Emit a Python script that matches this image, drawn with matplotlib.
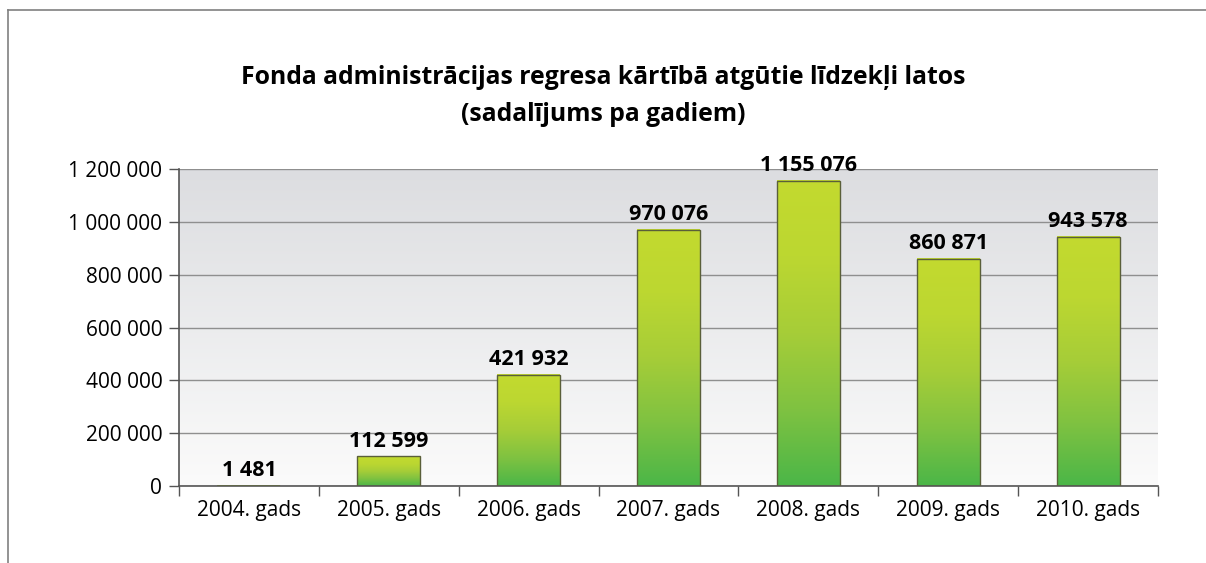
import numpy as np
import matplotlib
matplotlib.use("Agg")
import matplotlib.pyplot as plt
from matplotlib.colors import LinearSegmentedColormap
from matplotlib.lines import Line2D

categories = ["2004. gads", "2005. gads", "2006. gads", "2007. gads", "2008. gads", "2009. gads", "2010. gads"]
values = [1481, 112599, 421932, 970076, 1155076, 860871, 943578]
labels = ["1 481", "112 599", "421 932", "970 076", "1 155 076", "860 871", "943 578"]
yticks = [0, 200000, 400000, 600000, 800000, 1000000, 1200000]
ytick_labels = ["0", "200 000", "400 000", "600 000", "800 000", "1 000 000", "1 200 000"]
title = "Fonda administrācijas regresa kārtībā atgūtie līdzekļi latos\n(sadalījums pa gadiem)"

plt.rcParams['font.family'] = ['Open Sans', 'DejaVu Sans']

fig = plt.figure(figsize=(12.06, 5.63), dpi=100)
ax = fig.add_axes([179/1206, 1-486/563, (1158-179)/1206, (486-169)/563])

n = len(categories)
x = np.arange(n)
ax.set_xlim(-0.5, n-0.5)
ax.set_ylim(0, 1200000)

# background gradient
bg = LinearSegmentedColormap.from_list("bg", ["#fbfbfb", "#dcdde0"])
ax.imshow(np.linspace(0, 1, 256).reshape(-1, 1), cmap=bg, aspect='auto',
          extent=[-0.5, n-0.5, 0, 1200000], origin='lower', zorder=0)

ax.yaxis.grid(True, color="#8f8f8f", linewidth=1.0, zorder=1)
ax.set_axisbelow(True)

barcm = LinearSegmentedColormap.from_list("bar", ["#4bb648", "#7fc241", "#a6cd38", "#bcd731", "#c3da2f"])
bars = ax.bar(x, values, width=0.45, facecolor="none", edgecolor="#5a5f3a", linewidth=1.0, zorder=3)
for b in bars:
    bx, by = b.get_x(), b.get_y()
    w, h = b.get_width(), b.get_height()
    ax.imshow(np.linspace(0, 1, 256).reshape(-1, 1), cmap=barcm, aspect='auto',
              extent=[bx, bx+w, 0, h], origin='lower', zorder=2)

for xi, v, lab in zip(x, values, labels):
    ax.text(xi, v + 18000, lab, ha='center', va='bottom', fontsize=15.5, fontweight='bold', color='black', zorder=4)

ax.set_xlim(-0.5, n-0.5)
ax.set_ylim(0, 1200000)
ax.set_yticks(yticks)
ax.set_yticklabels(ytick_labels, fontsize=15)
ax.set_xticks(x)
ax.set_xticklabels(categories, fontsize=15)
ax.tick_params(axis='x', length=0, pad=10)
ax.set_xticks(np.arange(-0.5, n, 1), minor=True)
ax.tick_params(axis='x', which='minor', length=7, color="#555555", width=1.0)
ax.tick_params(axis='y', length=7, color="#555555", width=1.0, pad=5)

for s in ['top', 'right']:
    ax.spines[s].set_visible(False)
ax.spines['left'].set_color("#555555")
ax.spines['bottom'].set_color("#555555")
ax.spines['left'].set_linewidth(1.2)
ax.spines['bottom'].set_linewidth(1.2)

fig.text(0.5, 1-96/563, title, ha='center', va='center', fontsize=17.8, fontweight='bold', linespacing=1.6)

# outer frame (top, left edges)
fig.add_artist(Line2D([8/1206, 8/1206], [0, 1-10/563], transform=fig.transFigure, color="#808080", linewidth=1.2))
fig.add_artist(Line2D([8/1206, 1], [1-10/563, 1-10/563], transform=fig.transFigure, color="#808080", linewidth=1.2))

fig.savefig("out.png", dpi=100)
